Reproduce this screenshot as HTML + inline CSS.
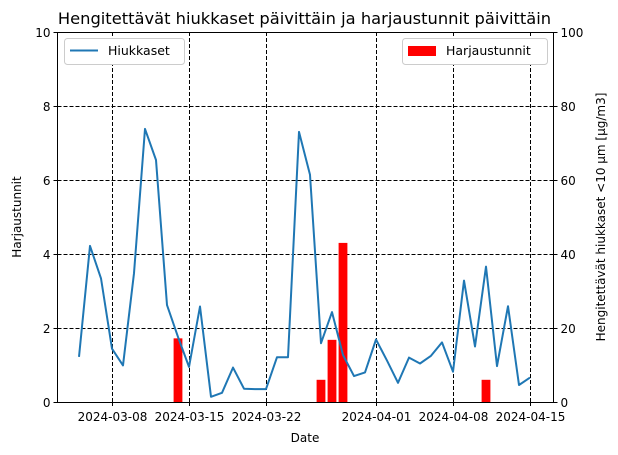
<!DOCTYPE html>
<html><head><meta charset="utf-8"><style>
body{margin:0;background:#fff;}
svg{display:block;font-family:"DejaVu Sans","Liberation Sans",sans-serif;}
</style></head><body>
<svg id="chart" width="618" height="455" viewBox="0 0 618 455">
<g id="grid"></g>
<g id="bars"></g>
<g id="line"></g>
<g id="axes"></g>
<text x="304.5" y="24" font-size="16.3" text-anchor="middle">Hengitettävät hiukkaset päivittäin ja harjaustunnit päivittäin</text>
<text x="305" y="442" font-size="12" text-anchor="middle">Date</text>
<text transform="translate(21,217) rotate(-90)" font-size="12" text-anchor="middle">Harjaustunnit</text>
<text transform="translate(605,217) rotate(-90)" font-size="12" text-anchor="middle">Hengitettävät hiukkaset &lt;10 µm [µg/m3]</text>
<g>
<rect x="64.5" y="38.5" width="120" height="26" rx="3" fill="#fff" stroke="#ccc"/>
<line x1="70" y1="50.5" x2="98" y2="50.5" stroke="#1f77b4" stroke-width="2"/>
<text x="108" y="55" font-size="12.5">Hiukkaset</text>
</g>
<g>
<rect x="402.5" y="38.5" width="145" height="26" rx="3" fill="#fff" stroke="#ccc"/>
<rect x="408" y="46" width="28" height="10" fill="red"/>
<text x="446" y="55" font-size="12.5">Harjaustunnit</text>
</g>
</svg>
<script>
const startDate = "2024-03-05";
const particles = [12.2,42.2,33.4,14.4,9.9,34.8,73.8,65.4,26.2,17.6,9.5,25.8,1.4,2.5,9.3,3.6,3.5,3.5,12.1,12.1,73,61.4,15.9,24.3,12.7,7.0,8.0,16.9,11.2,5.2,12.0,10.4,12.5,16.1,8.2,32.8,15.0,36.6,9.7,25.9,4.6,6.6];
const barDates = ["2024-03-14","2024-03-27","2024-03-28","2024-03-29","2024-04-11"];
const barValues = [1.72,0.6,1.68,4.3,0.6];
const xTickLabels = ["2024-03-08","2024-03-15","2024-03-22","2024-04-01","2024-04-08","2024-04-15"];
const leftTicks = [0,2,4,6,8,10];
const rightTicks = [0,20,40,60,80,100];

const L=57.5,R=553.5,T=32,B=402;
const DAY=86400000, d0=Date.parse("2024-03-08");
const xs=d=>112+(Date.parse(d)-d0)/DAY*11;
const yl=v=>B-(v/10)*(B-T);
const yr=v=>B-(v/100)*(B-T);
const px=v=>Math.round(v)+0.5;
const NS="http://www.w3.org/2000/svg";
function mk(tag,attrs,parent){const e=document.createElementNS(NS,tag);for(const k in attrs)e.setAttribute(k,attrs[k]);parent.appendChild(e);return e;}
const grid=document.getElementById('grid'),bars=document.getElementById('bars'),line=document.getElementById('line'),axes=document.getElementById('axes');
xTickLabels.forEach(d=>{const x=px(xs(d));
 const g=mk('line',{x1:x,x2:x,y1:T,y2:B,stroke:'#000','stroke-width':1,'stroke-dasharray':'4,2'},grid);
 
 
 mk('line',{x1:x,x2:x,y1:B,y2:B+4,stroke:'#000','stroke-width':1},axes);
 const t=mk('text',{x:x,y:B+19,'font-size':12,'text-anchor':'middle'},axes);t.textContent=d;
 
 
});
leftTicks.forEach(v=>{const y=px(yl(v));
 if(v>0&&v<10){const g=mk('line',{x1:L,x2:R,y1:y,y2:y,stroke:'#000','stroke-width':1,'stroke-dasharray':'4,2'},grid);
 
 }
 mk('line',{x1:L-4,x2:L,y1:y,y2:y,stroke:'#000','stroke-width':1},axes);
 const t=mk('text',{x:L-7,y:y+4.5,'font-size':12,'text-anchor':'end'},axes);t.textContent=v;
 
 
});
rightTicks.forEach(v=>{const y=px(yr(v));
 mk('line',{x1:R,x2:R+4,y1:y,y2:y,stroke:'#000','stroke-width':1},axes);
 const t=mk('text',{x:R+7,y:y+4.5,'font-size':12},axes);t.textContent=v;
 
 
});
barDates.forEach((d,i)=>{const x=xs(d);
 const b=mk('rect',{x:x-4.4,y:yl(barValues[i]),width:8.8,height:B-yl(barValues[i]),fill:'red'},bars);
 
 
});
const s0=Date.parse(startDate);
const pts=particles.map((v,i)=>{const x=112+(s0+i*DAY-d0)/DAY*11;return x.toFixed(1)+','+yr(v).toFixed(1);}).join(' ');
const pl=mk('polyline',{points:pts,fill:'none',stroke:'#1f77b4','stroke-width':2,'stroke-linejoin':'round'},line);


const fr=mk('rect',{x:L,y:T+0.5,width:R-L,height:B-T,fill:'none',stroke:'#000','stroke-width':1},axes);


</script>
</body></html>
